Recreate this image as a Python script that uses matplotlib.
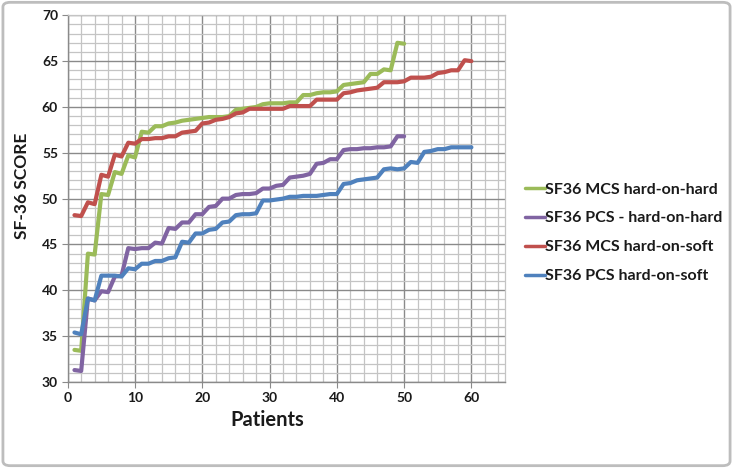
import numpy as np
import matplotlib
matplotlib.use("Agg")
import matplotlib.pyplot as plt
from matplotlib.patches import FancyBboxPatch
from matplotlib.ticker import MultipleLocator

plt.rcParams["font.family"] = ["Lato", "DejaVu Sans"]

# ──────────────────────────────
# Data
# ──────────────────────────────
patients_hh = np.arange(1, 51)
patients_hs = np.arange(1, 61)

mcs_hard_on_hard = [
    33.5, 33.4, 44.0, 43.9, 50.5, 50.4, 52.9, 52.7, 54.7, 54.5,
    57.3, 57.2, 57.9, 57.9, 58.2, 58.3, 58.5, 58.6, 58.7, 58.8,
    58.9, 58.9, 58.9, 59.0, 59.7, 59.8, 59.9, 60.0, 60.3, 60.4,
    60.4, 60.4, 60.5, 60.5, 61.3, 61.3, 61.5, 61.6, 61.6, 61.7,
    62.4, 62.5, 62.6, 62.7, 63.6, 63.6, 64.1, 64.0, 67.0, 66.9,
]
pcs_hard_on_hard = [
    31.3, 31.2, 39.1, 38.9, 39.9, 39.8, 41.5, 41.6, 44.6, 44.5,
    44.6, 44.6, 45.2, 45.1, 46.8, 46.7, 47.4, 47.4, 48.3, 48.3,
    49.1, 49.2, 50.0, 50.0, 50.4, 50.5, 50.5, 50.6, 51.1, 51.1,
    51.4, 51.5, 52.3, 52.4, 52.5, 52.7, 53.8, 53.9, 54.3, 54.3,
    55.3, 55.4, 55.4, 55.5, 55.5, 55.6, 55.6, 55.7, 56.8, 56.8,
]
mcs_hard_on_soft = [
    48.2, 48.1, 49.6, 49.4, 52.6, 52.4, 54.8, 54.6, 56.1, 56.0,
    56.5, 56.5, 56.6, 56.6, 56.8, 56.8, 57.2, 57.3, 57.4, 58.2,
    58.3, 58.6, 58.7, 58.9, 59.3, 59.4, 59.8, 59.8, 59.8, 59.8,
    59.8, 59.8, 60.1, 60.1, 60.1, 60.1, 60.8, 60.8, 60.8, 60.8,
    61.5, 61.6, 61.8, 61.9, 62.0, 62.1, 62.7, 62.7, 62.7, 62.8,
    63.2, 63.2, 63.2, 63.3, 63.7, 63.8, 64.0, 64.0, 65.1, 65.0,
]
pcs_hard_on_soft = [
    35.4, 35.2, 39.1, 38.9, 41.6, 41.6, 41.6, 41.5, 42.4, 42.3,
    42.9, 42.9, 43.2, 43.2, 43.5, 43.6, 45.3, 45.2, 46.2, 46.2,
    46.6, 46.7, 47.4, 47.5, 48.2, 48.3, 48.3, 48.4, 49.8, 49.8,
    49.9, 50.0, 50.2, 50.2, 50.3, 50.3, 50.3, 50.4, 50.5, 50.5,
    51.6, 51.7, 52.0, 52.1, 52.2, 52.3, 53.2, 53.3, 53.2, 53.3,
    54.0, 53.9, 55.1, 55.2, 55.4, 55.4, 55.6, 55.6, 55.6, 55.6,
]

series = [
    ("SF36 MCS hard-on-hard", patients_hh, mcs_hard_on_hard, "#9BBB59"),
    ("SF36 PCS - hard-on-hard", patients_hh, pcs_hard_on_hard, "#8064A2"),
    ("SF36 MCS hard-on-soft", patients_hs, mcs_hard_on_soft, "#C0504D"),
    ("SF36 PCS hard-on-soft", patients_hs, pcs_hard_on_soft, "#4F81BD"),
]

# ──────────────────────────────
# Figure
# ──────────────────────────────
fig = plt.figure(figsize=(7.33, 4.68), dpi=100)
ax = fig.add_axes([0.0924, 0.1838, 0.5966, 0.7835])

for label, x, y, color in series:
    ax.plot(x, y, color=color, lw=3.0, label=label,
            solid_joinstyle="round", solid_capstyle="round", zorder=3)

ax.set_xlim(0, 65)
ax.set_ylim(30, 70)
ax.xaxis.set_major_locator(MultipleLocator(10))
ax.xaxis.set_minor_locator(MultipleLocator(2))
ax.yaxis.set_major_locator(MultipleLocator(5))
ax.yaxis.set_minor_locator(MultipleLocator(1))
ax.set_xticks(np.arange(0, 61, 10))

ax.grid(which="major", color="#8a8a8a", lw=1.0, zorder=1)
ax.grid(which="minor", color="#c4c4c4", lw=0.9, zorder=0)
ax.tick_params(which="minor", length=0)
ax.tick_params(which="major", length=4, color="#8a8a8a", labelsize=10,
               labelcolor="#1a1a1a", pad=3)
for lab in ax.get_xticklabels() + ax.get_yticklabels():
    lab.set_fontweight("bold")

for side in ("left", "bottom"):
    ax.spines[side].set_color("#8a8a8a")
    ax.spines[side].set_linewidth(1.0)
for side in ("top", "right"):
    ax.spines[side].set_color("#c4c4c4")
    ax.spines[side].set_linewidth(0.9)

fig.text(22 / 733, 1 - 186 / 468, "SF-36 SCORE", rotation=90, ha="center",
         va="center", fontsize=12.5, fontweight="bold", color="#1a1a1a")
fig.text(267 / 733, 1 - 420 / 468, "Patients", ha="center", va="center",
         fontsize=14.5, fontweight="bold", color="#1a1a1a")

leg = fig.legend(loc="upper left", bbox_to_anchor=(519 / 733, 1 - 176 / 468),
                 frameon=False, fontsize=11.5, handlelength=1.2,
                 handletextpad=0.0, labelspacing=0.92, borderaxespad=0)
for line in leg.get_lines():
    line.set_linewidth(2.5)
for t in leg.get_texts():
    t.set_fontweight("bold")
    t.set_color("#1a1a1a")

# outer chart border
border = FancyBboxPatch((0.004, 0.005), 0.992, 0.99,
                        boxstyle="round,pad=0,rounding_size=0.01",
                        transform=fig.transFigure, fill=False,
                        edgecolor="#bdbdbd", lw=2)
fig.patches.append(border)

fig.savefig("out.png", dpi=100)
